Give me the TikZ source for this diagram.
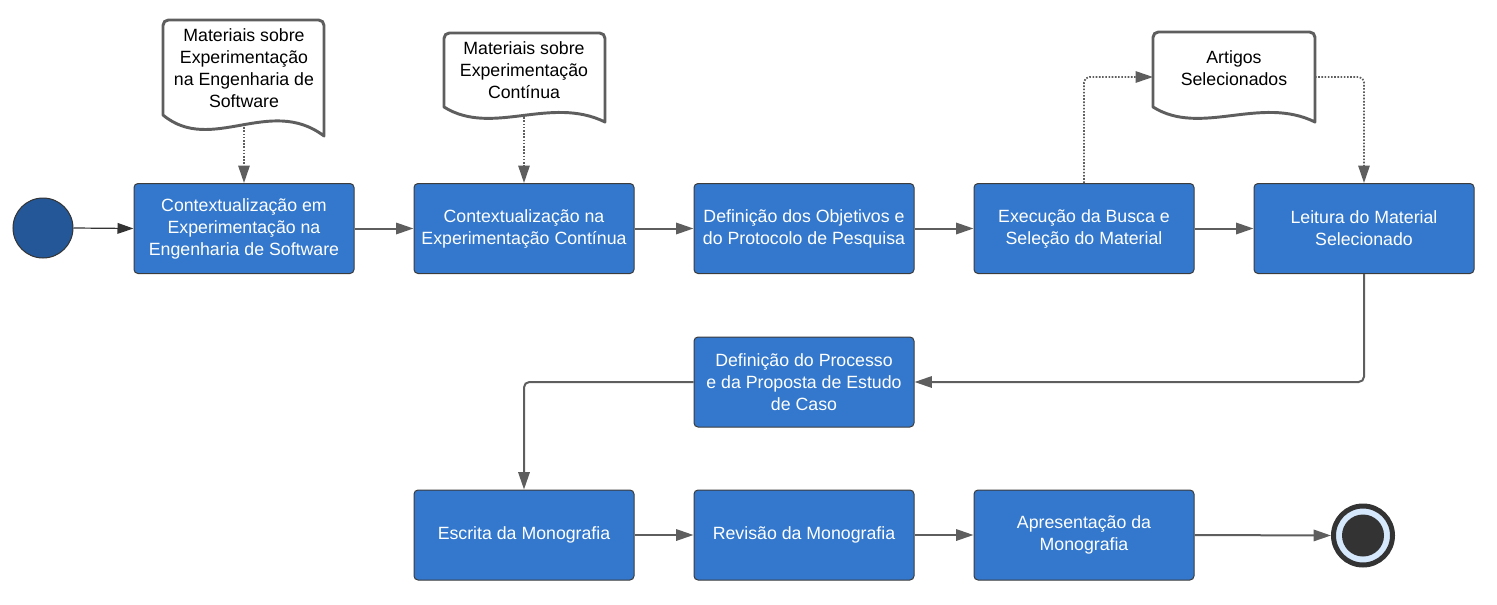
\documentclass[tikz,border=0pt]{standalone}
\usepackage{fontspec}
\setmainfont{Liberation Sans}
\usetikzlibrary{arrows.meta}
\definecolor{boxblue}{RGB}{51,120,204}
\definecolor{boxborder}{RGB}{60,60,60}
\definecolor{linegray}{RGB}{94,94,94}
\definecolor{startblue}{RGB}{35,87,151}
\definecolor{darkc}{RGB}{51,51,51}
\definecolor{lightblue}{RGB}{214,232,252}
\begin{document}
\begin{tikzpicture}[x=0.75pt,y=-0.75pt,
 every node/.style={font=\fontsize{13.3}{16.5}\selectfont},
 task/.style={draw=boxborder, line width=0.75pt, fill=boxblue, rounded corners=3pt, minimum width=165pt, minimum height=67.5pt, inner sep=0pt, align=center, text=white},
 doctext/.style={align=center, text=black, inner sep=0pt},
 docshape/.style={draw=linegray, line width=2.2pt, fill=white, line join=round},
 flow/.style={draw=linegray, line width=1.5pt, -{Triangle[length=13pt,width=8.5pt]}, rounded corners=4pt},
 dataflow/.style={draw=linegray, line width=1.3pt, dash pattern=on 1.2pt off 1.2pt, -{Triangle[length=13pt,width=8.5pt]}, rounded corners=4pt},
]
\useasboundingbox (0,0) rectangle (1497,604);

% start / end
\node[circle, draw=darkc, line width=0.75pt, fill=startblue, minimum size=45pt, inner sep=0pt] (start) at (43,228) {};
\node[circle, draw=darkc, line width=3.75pt, fill=lightblue, minimum size=44.25pt, inner sep=0pt] (end) at (1363,535.5) {};
\fill[darkc] (end.center) circle[radius=15.75pt];

% tasks
\node[task] (b1) at (244,228.5) {Contextualização em\\Experimentação na\\Engenharia de Software};
\node[task] (b2) at (524,228.5) {Contextualização na\\Experimentação Contínua};
\node[task] (b3) at (804,228.5) {Definição dos Objetivos e\\do Protocolo de Pesquisa};
\node[task] (b4) at (1084,228.5) {Execução da Busca e\\Seleção do Material};
\node[task] (b5) at (1364,228.5) {Leitura do Material\\Selecionado};
\node[task] (b6) at (804,382) {Definição do Processo\\e da Proposta de Estudo\\de Caso};
\node[task] (b7) at (524,535) {Escrita da Monografia};
\node[task] (b8) at (804,535) {Revisão da Monografia};
\node[task] (b9) at (1084,535) {Apresentação da\\Monografia};

% documents
\draw[docshape] (163,115) [rounded corners=4pt] -- (163,20) -- (324,20) [sharp corners] -- (324,136) .. controls (270,95) and (211,155) .. (163,115) -- cycle;
\node[doctext] (d1) at (244,68.5) {Materiais sobre\\Experimentação\\na Engenharia de\\Software};
\coordinate (d1o) at (244,124);

\draw[docshape] (444,107) [rounded corners=4pt] -- (444,33) -- (605,33) [sharp corners] -- (605,122) .. controls (550,95) and (492,137) .. (444,107) -- cycle;
\node[doctext] (d2) at (524,70) {Materiais sobre\\Experimentação\\Contínua};
\coordinate (d2o) at (524,114);

\draw[docshape] (1153,107) [rounded corners=4pt] -- (1153,32) -- (1315,32) [sharp corners] -- (1315,122) .. controls (1260,95) and (1201,137) .. (1153,107) -- cycle;
\node[doctext] (d3) at (1234,68) {Artigos\\Selecionados};
\coordinate (d3l) at (1153,77);
\coordinate (d3r) at (1315,77);

% connectors
\draw[darkc, line width=0.9pt, -{Triangle[length=12pt,width=8pt]}] (start.east) -- (b1.west);
\draw[flow] (b1.east) -- (b2.west);
\draw[flow] (b2.east) -- (b3.west);
\draw[flow] (b3.east) -- (b4.west);
\draw[flow] (b4.east) -- (b5.west);
\draw[flow] (b5.south) |- (b6.east);
\draw[flow] (b6.west) -| (b7.north);
\draw[flow] (b7.east) -- (b8.west);
\draw[flow] (b8.east) -- (b9.west);
\draw[flow] (b9.east) -- (end.west);

\draw[dataflow] (d1o) -- (b1.north);
\draw[dataflow] (d2o) -- (b2.north);
\draw[dataflow] (b4.north) |- (d3l);
\draw[dataflow] (d3r) -| (b5.north);
\end{tikzpicture}
\end{document}
